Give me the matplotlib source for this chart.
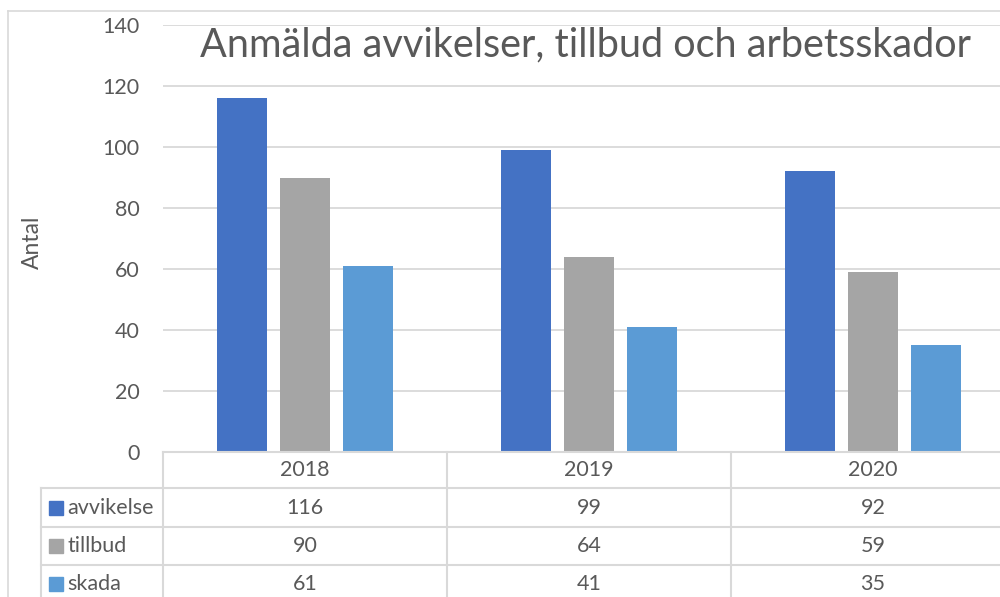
import matplotlib.pyplot as plt
import matplotlib.transforms as mtransforms
from matplotlib.patches import Rectangle
from matplotlib.lines import Line2D
import numpy as np

years = ['2018', '2019', '2020']
series = ['avvikelse', 'tillbud', 'skada']
avvikelse = [116, 99, 92]
tillbud = [90, 64, 59]
skada = [61, 41, 35]
colors = ['#4472C4', '#A5A5A5', '#5B9BD5']

plt.rcParams['font.family'] = ['Lato', 'DejaVu Sans']
txt = '#595959'
grid = '#d9d9d9'
fs = 15.5

W, H = 1000, 597
fig = plt.figure(figsize=(10, 5.97), dpi=100)


def px(x, y):
    # pixel (from top-left) -> figure fraction
    return x / W, 1 - y / H


# plot area runs a little past the right edge, like the cropped original
ax = fig.add_axes([163 / W, 145 / H, 852 / W, 427 / H])
x = np.arange(len(years))
step = 0.222
width = 0.173
for i, (vals, c) in enumerate(zip([avvikelse, tillbud, skada], colors)):
    ax.bar(x + (i - 1) * step, vals, width, color=c, zorder=3)

ax.set_xlim(-0.5, len(years) - 0.5)
ax.set_ylim(0, 140)
ax.set_yticks(range(0, 141, 20))
ax.set_xticks([])
ax.grid(axis='y', color=grid, lw=1.3, zorder=0)
for s in ax.spines.values():
    s.set_visible(False)
ax.tick_params(axis='y', length=0, labelsize=fs, labelcolor=txt, pad=17)

fig.text(*px(32, 242), 'Antal', rotation=90, ha='center', va='center',
         fontsize=16.5, color=txt)
fig.text(*px(585, 45), 'Anmälda avvikelser, tillbud och arbetsskador',
         ha='center', va='center', fontsize=28.5, color=txt)

# outer chart border (top and left visible)
fig.add_artist(Line2D([8 / W, 1], [1 - 11 / H] * 2, color=grid, lw=1.2))
fig.add_artist(Line2D([8 / W] * 2, [0, 1 - 11 / H], color=grid, lw=1.2))

# data table
blend = mtransforms.blended_transform_factory(ax.transData, fig.transFigure)
rows_y = [452, 488, 527, 565, 603]
col_x = [163, 447, 731, 1015]
lw = 1.5

fig.add_artist(Line2D([163 / W, 1], [1 - 452 / H] * 2, color=grid, lw=lw))
for yy in rows_y[1:4]:
    fig.add_artist(Line2D([41 / W, 1], [1 - yy / H] * 2, color=grid, lw=lw))
fig.add_artist(Line2D([41 / W] * 2, [0, 1 - 488 / H], color=grid, lw=lw))
for xx in col_x[:3]:
    fig.add_artist(Line2D([xx / W] * 2, [0, 1 - 452 / H], color=grid, lw=lw))

ymid = (rows_y[0] + rows_y[1]) / 2
for i, yr in enumerate(years):
    ax.text(i, 1 - ymid / H, yr, transform=blend, ha='center', va='center',
            fontsize=fs, color=txt, clip_on=False)

for r, (name, vals, c) in enumerate(zip(series, [avvikelse, tillbud, skada], colors)):
    ymid = (rows_y[r + 1] + rows_y[r + 2]) / 2
    fig.add_artist(Rectangle((49 / W, 1 - (ymid + 7) / H), 14 / W, 14 / H,
                             transform=fig.transFigure, color=c))
    fig.text(*px(67, ymid), name, ha='left', va='center', fontsize=fs, color=txt)
    for i, v in enumerate(vals):
        ax.text(i, 1 - ymid / H, str(v), transform=blend, ha='center', va='center',
                fontsize=fs, color=txt, clip_on=False)

fig.savefig('out.png', dpi=100)
